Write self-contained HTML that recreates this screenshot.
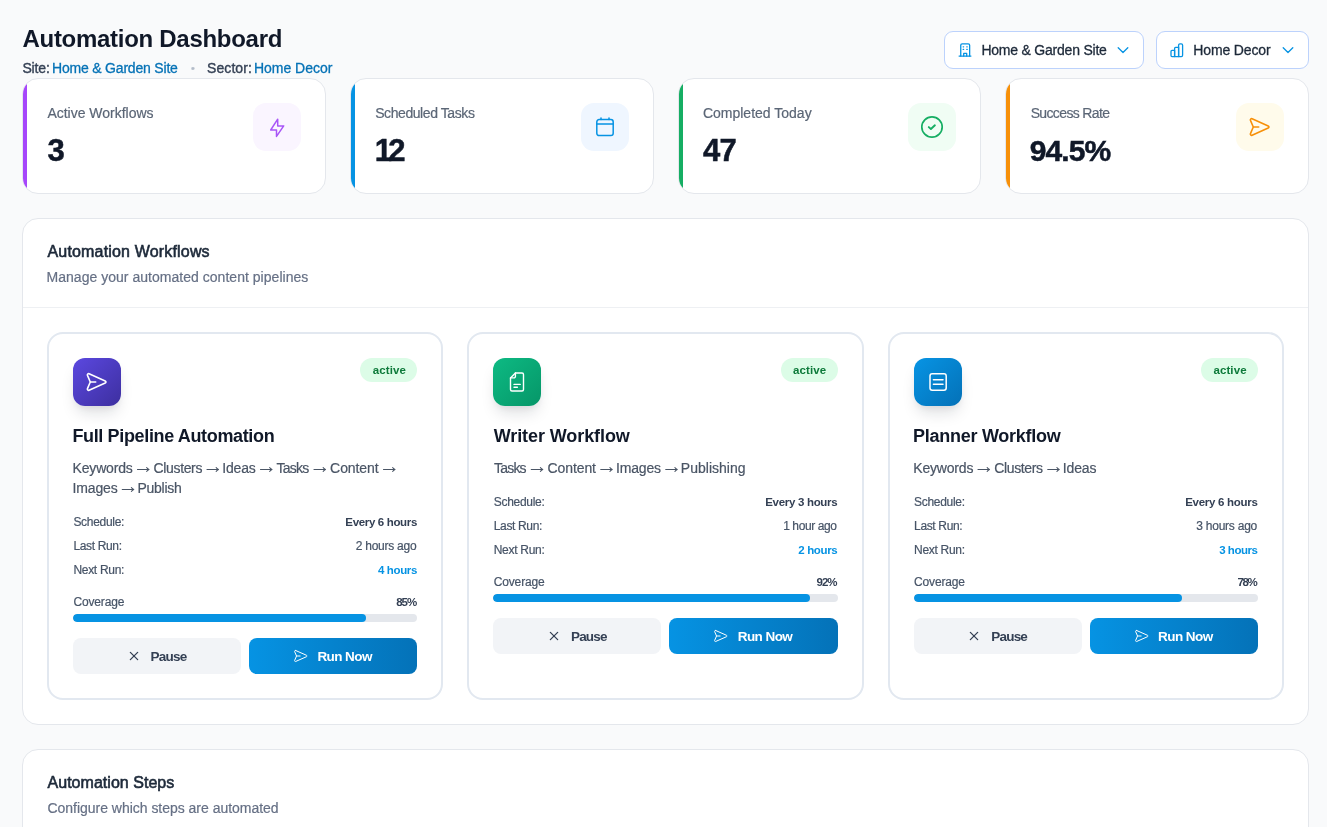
<!DOCTYPE html>
<html lang="en">
<head>
<meta charset="utf-8">
<title>Automation Dashboard</title>
<style>
*{box-sizing:border-box;margin:0;padding:0}
html,body{width:1327px;height:827px;overflow:hidden}
body{background:#f9fafb;font-family:"Liberation Sans",Arial,sans-serif;color:#101828;position:relative}
.t{position:absolute;white-space:nowrap;display:block;margin:0}
a.t{text-decoration:none}
svg{display:block}
.hdr{position:absolute;left:0;top:0;width:1327px;height:78px}
.sel{position:absolute;top:31px;height:38px;border:1px solid #bcd2fc;border-radius:9px;background:#fff}
.sel svg{position:absolute;top:10px}
.stat{position:absolute;top:78px;height:116px;background:#fff;border:1px solid #e4e7ec;border-radius:16px;overflow:hidden}
.stat i.strip{position:absolute;left:0;top:0;bottom:0;width:4px}
.stat .ic{position:absolute;top:24px;width:48px;height:48px;border-radius:13px;display:flex;align-items:center;justify-content:center}
.card{position:absolute;left:22px;width:1287px;background:#fff;border:1px solid #e4e7ec;border-radius:16px}
.rule{position:absolute;left:0;right:0;height:1px;background:#eef0f3}
.wf{position:absolute;height:368px;border:2px solid #e2e8f0;border-radius:16px;background:#fff}
.wf .ico{position:absolute;width:48px;height:48px;border-radius:12px;display:flex;align-items:center;justify-content:center;box-shadow:0 10px 15px -3px rgba(16,24,40,.13),0 4px 6px -2px rgba(16,24,40,.06)}
.badge{position:absolute;width:57.1px;height:24px;border-radius:12px;background:#dcfce7}
.ar{position:absolute;display:block;width:21px;height:20px;font-size:21px;line-height:20px;color:#4a5565;white-space:nowrap;overflow:visible}
.bar{position:absolute;height:8px;border-radius:4px;background:#e4e7ec;overflow:hidden}
.bar i{display:block;height:8px;border-radius:4px;background:#0693e3}
.btn{position:absolute;height:36px;border-radius:8px}
.btn.p{background:#f2f4f7}
.btn.r{background:linear-gradient(90deg,#0693e3,#0472b8)}
.btn svg{position:absolute;top:10px}
.btn.p svg{left:52.6px}
.btn.r svg{left:44px}
</style>
</head>
<body>
<header class="hdr">
<div class="sel" style="left:944px;width:199.5px"><svg style="left:12px" width="16" height="16" viewBox="0 0 16 16" fill="none" stroke="#0693e3" stroke-width="1.3" stroke-linecap="round" stroke-linejoin="round"><path d="M3.75 14.1V3.2a1.4 1.4 0 0 1 1.4-1.4h6.1a1.4 1.4 0 0 1 1.4 1.4v10.9"/><path d="M2.1 14.1h11.8"/><path d="M6.7 14.1v-2.7h3v2.7"/><path d="M6.2 4.8h.4M9.8 4.8h.4M6.2 7.4h.4M9.8 7.4h.4"/></svg><svg style="left:170px" width="16" height="16" viewBox="0 0 16 16" fill="none" stroke="#0693e3" stroke-width="1.300" stroke-linecap="round" stroke-linejoin="round"><path d="M3.200 5.700 8.000 10.500 12.800 5.700"/></svg></div>
<div class="sel" style="left:1156px;width:153px"><svg style="left:11.9px" width="16" height="16" viewBox="0 0 16 16" fill="none" stroke="#0693e3" stroke-width="1.300" stroke-linecap="round" stroke-linejoin="round"><path d="M2.000 9.400a1 1 0 0 1 1-1h2.600v6.200h-2.600a1 1 0 0 1-1-1z"/><path d="M5.600 6.400a1 1 0 0 1 1-1h3.000v9.200h-4.000z"/><path d="M9.600 3.200a1.300 1.300 0 0 1 1.300-1.300h1.400a1.300 1.300 0 0 1 1.300 1.300v10.100a1.300 1.300 0 0 1-1.300 1.300h-2.700z"/></svg><svg style="left:123.4px" width="16" height="16" viewBox="0 0 16 16" fill="none" stroke="#0693e3" stroke-width="1.300" stroke-linecap="round" stroke-linejoin="round"><path d="M3.200 5.700 8.000 10.500 12.800 5.700"/></svg></div>
<h1 class="t" style="left:22.50px;top:22px;font-size:24px;line-height:34px;font-weight:700;letter-spacing:-0.288px;color:#101828;">Automation Dashboard</h1>
<span class="t" style="left:22.40px;top:58px;font-size:14px;line-height:20px;font-weight:400;letter-spacing:-0.131px;color:#344054;-webkit-text-stroke:0.35px;">Site:</span>
<span class="t lk" style="left:52.00px;top:58px;font-size:14px;line-height:20px;font-weight:400;letter-spacing:-0.193px;color:#0572b6;-webkit-text-stroke:0.3px;">Home &amp; Garden Site</span>
<span class="t" style="left:190.90px;top:61px;font-size:11px;line-height:15px;font-weight:400;letter-spacing:0.000px;color:#b3bcc9;-webkit-text-stroke:0.2px;">•</span>
<span class="t" style="left:207.00px;top:58px;font-size:14px;line-height:20px;font-weight:400;letter-spacing:0.090px;color:#344054;-webkit-text-stroke:0.35px;">Sector:</span>
<span class="t lk" style="left:254.00px;top:58px;font-size:14px;line-height:20px;font-weight:400;letter-spacing:-0.024px;color:#0572b6;-webkit-text-stroke:0.3px;">Home Decor</span>
<span class="t" style="left:981.40px;top:40px;font-size:14px;line-height:20px;font-weight:400;letter-spacing:-0.217px;color:#1d2939;-webkit-text-stroke:0.3px;">Home &amp; Garden Site</span>
<span class="t" style="left:1193.30px;top:40px;font-size:14px;line-height:20px;font-weight:400;letter-spacing:-0.135px;color:#1d2939;-webkit-text-stroke:0.3px;">Home Decor</span>
</header>
<section class="stats">
<div class="stat" style="left:22.00px;width:303.75px"><i class="strip" style="background:#a646fb"></i>
<span class="t" style="left:24.40px;top:24px;font-size:14px;line-height:20px;font-weight:400;letter-spacing:-0.008px;color:#5b6676;-webkit-text-stroke:0.2px;">Active Workflows</span>
<span class="t" style="left:24.40px;top:50px;font-size:31px;line-height:43px;font-weight:700;letter-spacing:0.000px;color:#101828;-webkit-text-stroke:0.5px;">3</span>
<div class="ic" style="right:24px;background:#faf5ff"><svg width="24" height="24" viewBox="0 0 24 24" fill="none" stroke="#a855f7" stroke-width="1.5" stroke-linejoin="round"><path d="M12.7 4.2 5.7 15h5.8v6.4l7.2-10.5h-6z"/></svg></div>
</div>
<div class="stat" style="left:349.75px;width:303.75px"><i class="strip" style="background:#0693e3"></i>
<span class="t" style="left:24.40px;top:24px;font-size:14px;line-height:20px;font-weight:400;letter-spacing:-0.417px;color:#5b6676;-webkit-text-stroke:0.2px;">Scheduled Tasks</span>
<span class="t" style="left:24.00px;top:50px;font-size:31px;line-height:43px;font-weight:700;letter-spacing:-3.841px;color:#101828;-webkit-text-stroke:0.5px;">12</span>
<div class="ic" style="right:24px;background:#eff6ff"><svg width="24" height="24" viewBox="0 0 24 24" fill="none" stroke="#0693e3" stroke-width="1.5" stroke-linecap="round"><rect x="3.800" y="4.600" width="16.400" height="16.000" rx="2.300"/><path d="M3.800 9.000h16.400M8.000 2.900v1.700M16.000 2.900v1.700"/></svg></div>
</div>
<div class="stat" style="left:677.50px;width:303.75px"><i class="strip" style="background:#16ae63"></i>
<span class="t" style="left:24.40px;top:24px;font-size:14px;line-height:20px;font-weight:400;letter-spacing:0.003px;color:#5b6676;-webkit-text-stroke:0.2px;">Completed Today</span>
<span class="t" style="left:24.40px;top:50px;font-size:31px;line-height:43px;font-weight:700;letter-spacing:-0.641px;color:#101828;-webkit-text-stroke:0.5px;">47</span>
<div class="ic" style="right:24px;background:#f0fdf4"><svg width="24" height="24" viewBox="0 0 24 24" fill="none" stroke="#16ae63" stroke-linecap="round" stroke-linejoin="round"><circle cx="12" cy="12" r="10.2" stroke-width="1.7"/><path d="M8.8 12.1 10.9 14 14.9 10.3" stroke-width="1.9"/></svg></div>
</div>
<div class="stat" style="left:1005.25px;width:303.75px"><i class="strip" style="background:#f79009"></i>
<span class="t" style="left:24.40px;top:24px;font-size:14px;line-height:20px;font-weight:400;letter-spacing:-0.635px;color:#5b6676;-webkit-text-stroke:0.2px;">Success Rate</span>
<span class="t" style="left:23.40px;top:51px;font-size:30px;line-height:42px;font-weight:700;letter-spacing:-0.897px;color:#101828;-webkit-text-stroke:0.5px;">94.5%</span>
<div class="ic" style="right:24px;background:#fffbeb"><svg width="24" height="24" viewBox="0 0 24 24" fill="none" stroke="#f79009" stroke-width="1.6" stroke-linecap="round" stroke-linejoin="round"><path d="M4.1 3.8 20.2 10.9c1.0.45 1.0 1.75 0 2.2L4.1 20.2c-1.0.45-2.05-.55-1.65-1.6L5.3 12 2.45 5.4c-.4-1.05.65-2.05 1.65-1.6Z"/><path d="M5.5 12h5.2"/></svg></div>
</div>
</section>
<section class="card" style="top:218px;height:507px">
<h2 class="t" style="left:24.50px;top:22px;font-size:16px;line-height:22px;font-weight:400;letter-spacing:0.170px;color:#1d2939;-webkit-text-stroke:0.6px;">Automation Workflows</h2>
<p class="t" style="left:23.50px;top:48px;font-size:14px;line-height:20px;font-weight:400;letter-spacing:0.028px;color:#667085;-webkit-text-stroke:0.2px;">Manage your automated content pipelines</p>
<div class="rule" style="top:88px"></div>
<article class="wf" style="left:24.00px;top:113px;width:396.33px">
<div class="ico" style="left:24px;top:24px;background:linear-gradient(135deg,#5b48e0,#3d2f9f)"><svg width="24" height="24" viewBox="0 0 24 24" fill="none" stroke="#fff" stroke-width="1.6" stroke-linecap="round" stroke-linejoin="round"><path d="M4.1 3.8 20.2 10.9c1.0.45 1.0 1.75 0 2.2L4.1 20.2c-1.0.45-2.05-.55-1.65-1.6L5.3 12 2.45 5.4c-.4-1.05.65-2.05 1.65-1.6Z"/><path d="M5.5 12h5.2"/></svg></div>
<div class="badge" style="left:311.23px;top:24px"></div>
<span class="t" style="left:323.73px;top:28px;font-size:11.5px;line-height:16px;font-weight:700;letter-spacing:0.118px;color:#0d7a3a;">active</span>
<h3 class="t" style="left:23.40px;top:90px;font-size:18px;line-height:25px;font-weight:700;letter-spacing:-0.352px;color:#101828;">Full Pipeline Automation</h3>
<span class="t" style="left:23.60px;top:124px;font-size:14px;line-height:20px;font-weight:400;letter-spacing:-0.181px;color:#4a5565;-webkit-text-stroke:0.2px;">Keywords</span>
<span class="ar" style="left:83.90px;top:122px">→</span>
<span class="t" style="left:104.60px;top:124px;font-size:14px;line-height:20px;font-weight:400;letter-spacing:-0.364px;color:#4a5565;-webkit-text-stroke:0.2px;">Clusters</span>
<span class="ar" style="left:153.50px;top:122px">→</span>
<span class="t" style="left:173.20px;top:124px;font-size:14px;line-height:20px;font-weight:400;letter-spacing:-0.162px;color:#4a5565;-webkit-text-stroke:0.2px;">Ideas</span>
<span class="ar" style="left:206.90px;top:122px">→</span>
<span class="t" style="left:227.60px;top:124px;font-size:14px;line-height:20px;font-weight:400;letter-spacing:-0.772px;color:#4a5565;-webkit-text-stroke:0.2px;">Tasks</span>
<span class="ar" style="left:260.40px;top:122px">→</span>
<span class="t" style="left:281.10px;top:124px;font-size:14px;line-height:20px;font-weight:400;letter-spacing:-0.074px;color:#4a5565;-webkit-text-stroke:0.2px;">Content</span>
<span class="ar" style="left:329.90px;top:122px">→</span>
<span class="t" style="left:23.60px;top:144px;font-size:14px;line-height:20px;font-weight:400;letter-spacing:-0.162px;color:#4a5565;-webkit-text-stroke:0.2px;">Images</span>
<span class="ar" style="left:68.80px;top:142px">→</span>
<span class="t" style="left:88.50px;top:144px;font-size:14px;line-height:20px;font-weight:400;letter-spacing:-0.272px;color:#4a5565;-webkit-text-stroke:0.2px;">Publish</span>
<span class="t" style="left:24.40px;top:180px;font-size:12px;line-height:17px;font-weight:400;letter-spacing:-0.292px;color:#475467;-webkit-text-stroke:0.2px;">Schedule:</span>
<span class="t" style="left:296.33px;top:180px;font-size:11.5px;line-height:16px;font-weight:700;letter-spacing:-0.339px;color:#344054;">Every 6 hours</span>
<span class="t" style="left:24.40px;top:204px;font-size:12px;line-height:17px;font-weight:400;letter-spacing:-0.341px;color:#475467;-webkit-text-stroke:0.2px;">Last Run:</span>
<span class="t" style="left:306.73px;top:204px;font-size:12px;line-height:17px;font-weight:400;letter-spacing:-0.251px;color:#475467;-webkit-text-stroke:0.2px;">2 hours ago</span>
<span class="t" style="left:24.40px;top:228px;font-size:12px;line-height:17px;font-weight:400;letter-spacing:-0.290px;color:#475467;-webkit-text-stroke:0.2px;">Next Run:</span>
<span class="t" style="left:328.93px;top:228px;font-size:11.5px;line-height:16px;font-weight:700;letter-spacing:-0.357px;color:#0693e3;">4 hours</span>
<span class="t" style="left:24.40px;top:260px;font-size:12px;line-height:17px;font-weight:400;letter-spacing:-0.151px;color:#475467;-webkit-text-stroke:0.2px;">Coverage</span>
<span class="t" style="left:347.13px;top:260px;font-size:11.5px;line-height:16px;font-weight:700;letter-spacing:-0.996px;color:#344054;">85%</span>
<div class="bar" style="left:24px;top:280px;width:344.33px"><i style="width:85%"></i></div>
<div class="btn p" style="left:24px;top:304px;width:168.17px"><svg width="16" height="16" viewBox="0 0 16 16" fill="none" stroke="#344054" stroke-width="1.300" stroke-linecap="round"><path d="M4.35 4.35 11.65 11.65M11.65 4.35 4.35 11.65"/></svg></div>
<span class="t" style="left:101.60px;top:313px;font-size:13.5px;line-height:19px;font-weight:700;letter-spacing:-0.792px;color:#344054;">Pause</span>
<div class="btn r" style="left:200.17px;top:304px;width:168.17px"><svg width="16" height="16" viewBox="0 0 24 24" fill="none" stroke="#fff" stroke-width="1.5" stroke-linecap="round" stroke-linejoin="round"><path d="M4.1 3.8 20.2 10.9c1.0.45 1.0 1.75 0 2.2L4.1 20.2c-1.0.45-2.05-.55-1.65-1.6L5.3 12 2.45 5.4c-.4-1.05.65-2.05 1.65-1.6Z"/><path d="M5.5 12h5.2"/></svg></div>
<span class="t" style="left:268.40px;top:313px;font-size:13.5px;line-height:19px;font-weight:700;letter-spacing:-0.565px;color:#fff;">Run Now</span>
</article>
<article class="wf" style="left:444.33px;top:113px;width:396.33px">
<div class="ico" style="left:24px;top:24px;background:linear-gradient(135deg,#0dba83,#069668)"><svg width="24" height="24" viewBox="0 0 24 24" fill="none" stroke="#fff" stroke-width="1.400" stroke-linecap="round" stroke-linejoin="round"><path d="M10.400 3.000h6.600a1.500 1.500 0 0 1 1.500 1.500v15.000a1.500 1.500 0 0 1-1.500 1.500h-10.000a1.500 1.500 0 0 1-1.500-1.500v-11.600z"/><path d="M10.400 3.000v3.400a1.500 1.500 0 0 1-1.500 1.500h-3.400"/><path d="M9 14.400h6.2M9 17.300h3.4"/></svg></div>
<div class="badge" style="left:311.23px;top:24px"></div>
<span class="t" style="left:323.73px;top:28px;font-size:11.5px;line-height:16px;font-weight:700;letter-spacing:0.118px;color:#0d7a3a;">active</span>
<h3 class="t" style="left:24.40px;top:90px;font-size:18px;line-height:25px;font-weight:700;letter-spacing:-0.089px;color:#101828;">Writer Workflow</h3>
<span class="t" style="left:24.60px;top:124px;font-size:14px;line-height:20px;font-weight:400;letter-spacing:-0.772px;color:#4a5565;-webkit-text-stroke:0.2px;">Tasks</span>
<span class="ar" style="left:57.40px;top:122px">→</span>
<span class="t" style="left:78.10px;top:124px;font-size:14px;line-height:20px;font-weight:400;letter-spacing:-0.074px;color:#4a5565;-webkit-text-stroke:0.2px;">Content</span>
<span class="ar" style="left:126.90px;top:122px">→</span>
<span class="t" style="left:146.60px;top:124px;font-size:14px;line-height:20px;font-weight:400;letter-spacing:-0.162px;color:#4a5565;-webkit-text-stroke:0.2px;">Images</span>
<span class="ar" style="left:191.80px;top:122px">→</span>
<span class="t" style="left:211.50px;top:124px;font-size:14px;line-height:20px;font-weight:400;letter-spacing:0.010px;color:#4a5565;-webkit-text-stroke:0.2px;">Publishing</span>
<span class="t" style="left:24.40px;top:160px;font-size:12px;line-height:17px;font-weight:400;letter-spacing:-0.292px;color:#475467;-webkit-text-stroke:0.2px;">Schedule:</span>
<span class="t" style="left:295.93px;top:160px;font-size:11.5px;line-height:16px;font-weight:700;letter-spacing:-0.306px;color:#344054;">Every 3 hours</span>
<span class="t" style="left:24.40px;top:184px;font-size:12px;line-height:17px;font-weight:400;letter-spacing:-0.341px;color:#475467;-webkit-text-stroke:0.2px;">Last Run:</span>
<span class="t" style="left:313.83px;top:184px;font-size:12px;line-height:17px;font-weight:400;letter-spacing:-0.401px;color:#475467;-webkit-text-stroke:0.2px;">1 hour ago</span>
<span class="t" style="left:24.40px;top:208px;font-size:12px;line-height:17px;font-weight:400;letter-spacing:-0.290px;color:#475467;-webkit-text-stroke:0.2px;">Next Run:</span>
<span class="t" style="left:328.93px;top:208px;font-size:11.5px;line-height:16px;font-weight:700;letter-spacing:-0.357px;color:#0693e3;">2 hours</span>
<span class="t" style="left:24.40px;top:240px;font-size:12px;line-height:17px;font-weight:400;letter-spacing:-0.151px;color:#475467;-webkit-text-stroke:0.2px;">Coverage</span>
<span class="t" style="left:347.23px;top:240px;font-size:11.5px;line-height:16px;font-weight:700;letter-spacing:-1.046px;color:#344054;">92%</span>
<div class="bar" style="left:24px;top:260px;width:344.33px"><i style="width:92%"></i></div>
<div class="btn p" style="left:24px;top:284px;width:168.17px"><svg width="16" height="16" viewBox="0 0 16 16" fill="none" stroke="#344054" stroke-width="1.300" stroke-linecap="round"><path d="M4.35 4.35 11.65 11.65M11.65 4.35 4.35 11.65"/></svg></div>
<span class="t" style="left:101.60px;top:293px;font-size:13.5px;line-height:19px;font-weight:700;letter-spacing:-0.792px;color:#344054;">Pause</span>
<div class="btn r" style="left:200.17px;top:284px;width:168.17px"><svg width="16" height="16" viewBox="0 0 24 24" fill="none" stroke="#fff" stroke-width="1.5" stroke-linecap="round" stroke-linejoin="round"><path d="M4.1 3.8 20.2 10.9c1.0.45 1.0 1.75 0 2.2L4.1 20.2c-1.0.45-2.05-.55-1.65-1.6L5.3 12 2.45 5.4c-.4-1.05.65-2.05 1.65-1.6Z"/><path d="M5.5 12h5.2"/></svg></div>
<span class="t" style="left:268.40px;top:293px;font-size:13.5px;line-height:19px;font-weight:700;letter-spacing:-0.565px;color:#fff;">Run Now</span>
</article>
<article class="wf" style="left:864.67px;top:113px;width:396.33px">
<div class="ico" style="left:24px;top:24px;background:linear-gradient(135deg,#0794e4,#0471b7)"><svg width="24" height="24" viewBox="0 0 24 24" fill="none" stroke="#fff" stroke-width="1.500" stroke-linecap="round"><rect x="4.000" y="3.800" width="16.200" height="16.500" rx="2.200"/><path d="M7.400 9.700h9.600M7.400 14.200h9.600"/></svg></div>
<div class="badge" style="left:311.23px;top:24px"></div>
<span class="t" style="left:323.73px;top:28px;font-size:11.5px;line-height:16px;font-weight:700;letter-spacing:0.118px;color:#0d7a3a;">active</span>
<h3 class="t" style="left:23.40px;top:90px;font-size:18px;line-height:25px;font-weight:700;letter-spacing:-0.266px;color:#101828;">Planner Workflow</h3>
<span class="t" style="left:23.60px;top:124px;font-size:14px;line-height:20px;font-weight:400;letter-spacing:-0.181px;color:#4a5565;-webkit-text-stroke:0.2px;">Keywords</span>
<span class="ar" style="left:83.90px;top:122px">→</span>
<span class="t" style="left:104.60px;top:124px;font-size:14px;line-height:20px;font-weight:400;letter-spacing:-0.364px;color:#4a5565;-webkit-text-stroke:0.2px;">Clusters</span>
<span class="ar" style="left:153.50px;top:122px">→</span>
<span class="t" style="left:173.20px;top:124px;font-size:14px;line-height:20px;font-weight:400;letter-spacing:-0.162px;color:#4a5565;-webkit-text-stroke:0.2px;">Ideas</span>
<span class="t" style="left:24.40px;top:160px;font-size:12px;line-height:17px;font-weight:400;letter-spacing:-0.292px;color:#475467;-webkit-text-stroke:0.2px;">Schedule:</span>
<span class="t" style="left:295.53px;top:160px;font-size:11.5px;line-height:16px;font-weight:700;letter-spacing:-0.272px;color:#344054;">Every 6 hours</span>
<span class="t" style="left:24.40px;top:184px;font-size:12px;line-height:17px;font-weight:400;letter-spacing:-0.341px;color:#475467;-webkit-text-stroke:0.2px;">Last Run:</span>
<span class="t" style="left:306.63px;top:184px;font-size:12px;line-height:17px;font-weight:400;letter-spacing:-0.241px;color:#475467;-webkit-text-stroke:0.2px;">3 hours ago</span>
<span class="t" style="left:24.40px;top:208px;font-size:12px;line-height:17px;font-weight:400;letter-spacing:-0.290px;color:#475467;-webkit-text-stroke:0.2px;">Next Run:</span>
<span class="t" style="left:329.53px;top:208px;font-size:11.5px;line-height:16px;font-weight:700;letter-spacing:-0.457px;color:#0693e3;">3 hours</span>
<span class="t" style="left:24.40px;top:240px;font-size:12px;line-height:17px;font-weight:400;letter-spacing:-0.151px;color:#475467;-webkit-text-stroke:0.2px;">Coverage</span>
<span class="t" style="left:347.73px;top:240px;font-size:11.5px;line-height:16px;font-weight:700;letter-spacing:-1.296px;color:#344054;">78%</span>
<div class="bar" style="left:24px;top:260px;width:344.33px"><i style="width:78%"></i></div>
<div class="btn p" style="left:24px;top:284px;width:168.17px"><svg width="16" height="16" viewBox="0 0 16 16" fill="none" stroke="#344054" stroke-width="1.300" stroke-linecap="round"><path d="M4.35 4.35 11.65 11.65M11.65 4.35 4.35 11.65"/></svg></div>
<span class="t" style="left:101.60px;top:293px;font-size:13.5px;line-height:19px;font-weight:700;letter-spacing:-0.792px;color:#344054;">Pause</span>
<div class="btn r" style="left:200.17px;top:284px;width:168.17px"><svg width="16" height="16" viewBox="0 0 24 24" fill="none" stroke="#fff" stroke-width="1.5" stroke-linecap="round" stroke-linejoin="round"><path d="M4.1 3.8 20.2 10.9c1.0.45 1.0 1.75 0 2.2L4.1 20.2c-1.0.45-2.05-.55-1.65-1.6L5.3 12 2.45 5.4c-.4-1.05.65-2.05 1.65-1.6Z"/><path d="M5.5 12h5.2"/></svg></div>
<span class="t" style="left:268.40px;top:293px;font-size:13.5px;line-height:19px;font-weight:700;letter-spacing:-0.565px;color:#fff;">Run Now</span>
</article>
</section>
<section class="card" style="top:749px;height:200px">
<h2 class="t" style="left:24.50px;top:22px;font-size:16px;line-height:22px;font-weight:400;letter-spacing:0.034px;color:#1d2939;-webkit-text-stroke:0.6px;">Automation Steps</h2>
<p class="t" style="left:24.50px;top:48px;font-size:14px;line-height:20px;font-weight:400;letter-spacing:-0.024px;color:#667085;-webkit-text-stroke:0.2px;">Configure which steps are automated</p>
</section>
</body>
</html>
